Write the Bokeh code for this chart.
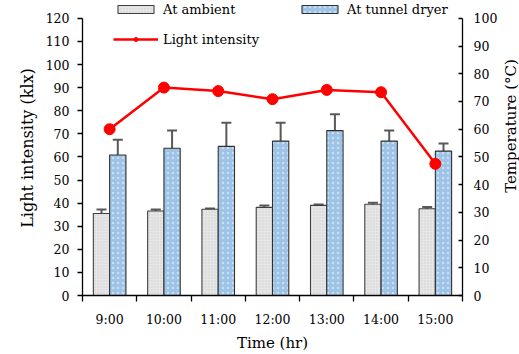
from bokeh.plotting import figure
from bokeh.layouts import row
from bokeh.models import (Range1d, LinearAxis, FixedTicker, Whisker, ColumnDataSource,
                          Legend, LegendItem, TeeHead)
from bokeh.embed import file_html
from bokeh.resources import INLINE

times = ["9:00", "10:00", "11:00", "12:00", "13:00", "14:00", "15:00"]
ambient = [29.6, 30.5, 31.1, 31.8, 32.5, 32.9, 31.3]
ambient_err = [1.4, 0.5, 0.3, 0.7, 0.3, 0.6, 0.6]
tunnel = [50.7, 53.1, 53.8, 55.7, 59.5, 55.7, 52.1]
tunnel_err = [5.5, 6.4, 8.5, 6.6, 5.9, 3.8, 2.7]
light = [72.0, 90.0, 88.5, 85.0, 89.0, 88.0, 57.0]
left_ticks = list(range(0, 121, 10))
right_ticks = list(range(0, 101, 10))

FONT = "DejaVu Serif"

xc = [i + 0.5 for i in range(len(times))]
src = ColumnDataSource(dict(
    x=xc,
    xa=[x - 0.15 for x in xc],
    xt=[x + 0.15 for x in xc],
    amb=ambient, amb_lo=[a - e for a, e in zip(ambient, ambient_err)],
    amb_hi=[a + e for a, e in zip(ambient, ambient_err)],
    tun=tunnel, tun_lo=[a - e for a, e in zip(tunnel, tunnel_err)],
    tun_hi=[a + e for a, e in zip(tunnel, tunnel_err)],
    light=light,
))

# frame extends to the top edge so the legend (above the axes' top) is not clipped
TOP_EXT = 298 / 280
p = figure(width=500, height=354, output_backend="svg", toolbar_location=None,
           x_range=Range1d(0, len(times)), y_range=Range1d(0, 120 * TOP_EXT),
           min_border_left=82, min_border_right=37, min_border_top=0, min_border_bottom=56)
p.extra_y_ranges = {"temp": Range1d(0, 100 * TOP_EXT)}
p.outline_line_color = None
p.xgrid.visible = False
p.ygrid.visible = False
p.background_fill_color = "white"

# x axis
xa = p.xaxis[0]
xa.ticker = FixedTicker(ticks=xc, minor_ticks=list(range(len(times) + 1)))
xa.major_label_overrides = {x: t for x, t in zip(xc, times)}
xa.major_tick_line_color = None
xa.minor_tick_line_color = "black"
xa.minor_tick_out = 6
xa.minor_tick_in = 0
xa.axis_label = "Time (hr)"

# left axis
ya = p.yaxis[0]
ya.ticker = FixedTicker(ticks=left_ticks)
ya.bounds = (0, 120)
ya.major_tick_out = 5
ya.major_tick_in = 0
ya.minor_tick_line_color = None
ya.axis_label = "Light intensity (klx)"

# right axis (label drawn by the narrow companion figure so it reads bottom-to-top)
ra = LinearAxis(y_range_name="temp", ticker=FixedTicker(ticks=right_ticks), bounds=(0, 100))
ra.major_tick_out = 0
ra.major_tick_in = 4
ra.minor_tick_line_color = None
p.add_layout(ra, "right")

for ax in [xa, ya, ra]:
    ax.axis_line_color = "black"
    ax.axis_line_width = 1.3
    ax.major_tick_line_width = 1.3
    ax.minor_tick_line_width = 1.3
    ax.major_label_text_font = FONT
    ax.major_label_text_font_size = "12.5px"
    ax.major_label_text_color = "black"
    ax.axis_label_text_font = FONT
    ax.axis_label_text_font_size = "16px"
    ax.axis_label_text_font_style = "normal"
    ax.axis_label_text_color = "black"

xa.axis_label_text_font_size = "15px"
xa.major_label_standoff = 10
xa.axis_label_standoff = 4
ya.major_label_standoff = 8
ya.axis_label_standoff = 6
ra.major_label_standoff = 11

r_amb = p.vbar(x="xa", top="amb", width=0.3, source=src, y_range_name="temp",
               fill_color="#e6e6e6", line_color="#404040", line_width=1.1,
               hatch_pattern=".", hatch_color="#cfcfcf", hatch_scale=3, hatch_weight=0.8)
r_tun = p.vbar(x="xt", top="tun", width=0.3, source=src, y_range_name="temp",
               fill_color="#9dc3e6", line_color="#303030", line_width=1.1,
               hatch_pattern=".", hatch_color="white", hatch_scale=5, hatch_weight=0.8,
               hatch_alpha=0.45)

for lo, hi, xcol in [("amb_lo", "amb_hi", "xa"), ("tun_lo", "tun_hi", "xt")]:
    w = Whisker(source=src, base=xcol, lower=lo, upper=hi, dimension="height",
                y_range_name="temp", line_color="#595959", line_width=2,
                upper_head=TeeHead(size=10, line_color="#595959", line_width=2),
                lower_head=TeeHead(size=10, line_color="#595959", line_width=2))
    p.add_layout(w)

r_line = p.line(x="x", y="light", source=src, line_color="#ff0000", line_width=2.5)
r_pts = p.scatter(x="x", y="light", source=src, size=11, fill_color="#ff0000",
                  line_color="#ff0000")


def style_legend(lg):
    lg.border_line_color = None
    lg.background_fill_alpha = 0
    lg.padding = 0
    lg.margin = 0
    lg.glyph_width = 45
    lg.glyph_height = 10
    lg.label_standoff = 5
    lg.label_text_font = FONT
    lg.label_text_font_size = "13px"
    lg.label_text_color = "black"
    lg.label_height = 20
    lg.spacing = 10


legA = Legend(items=[LegendItem(label="At ambient", renderers=[r_amb]),
                     LegendItem(label="Light intensity", renderers=[r_line, r_pts])],
              location=(31, 246), orientation="vertical")
legB = Legend(items=[LegendItem(label="At tunnel dryer", renderers=[r_tun])],
              location=(215, 276), orientation="vertical")
for lg in (legA, legB):
    style_legend(lg)
    p.add_layout(lg)

# narrow companion figure carrying the right-hand axis title
p2 = figure(width=19, height=310, output_backend="svg", toolbar_location=None,
            x_range=Range1d(0, 1), y_range=Range1d(0, 1),
            x_axis_location=None, y_axis_location="left",
            min_border_left=0, min_border_right=0, min_border_top=0, min_border_bottom=0)
p2.outline_line_color = None
p2.xgrid.visible = False
p2.ygrid.visible = False
ta = p2.yaxis[0]
ta.ticker = FixedTicker(ticks=[0.5])
ta.major_label_overrides = {0.5: ""}
ta.axis_line_color = None
ta.major_tick_line_color = None
ta.minor_tick_line_color = None
ta.major_tick_out = 0
ta.major_tick_in = 0
ta.major_label_standoff = 0
ta.major_label_text_font_size = "1px"
ta.axis_label_standoff = 0
ta.axis_label = "Temperature (°C)"
ta.axis_label_text_font = FONT
ta.axis_label_text_font_size = "15px"
ta.axis_label_text_font_style = "normal"
ta.axis_label_text_color = "black"

layout = row(p, p2)
open("out.html", "w").write(file_html(layout, INLINE))
